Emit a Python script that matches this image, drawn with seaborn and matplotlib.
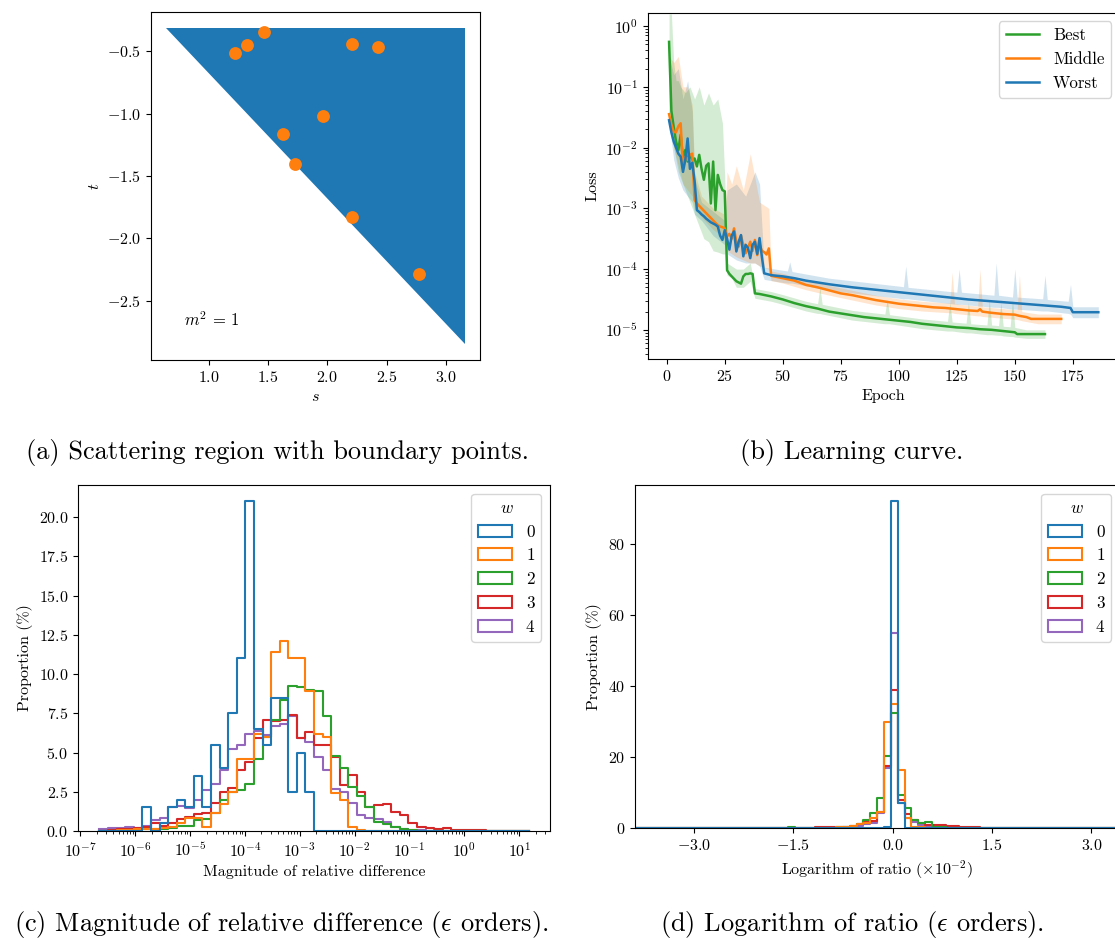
import numpy as np
import pandas as pd
import matplotlib
matplotlib.use("Agg")
import matplotlib.pyplot as plt
import seaborn as sns
from matplotlib.ticker import MultipleLocator, LogLocator, NullFormatter
from matplotlib.patches import Patch

plt.rcParams.update({
    "font.family": "serif",
    "font.serif": ["cmr10"],
    "mathtext.fontset": "cm",
    "axes.formatter.use_mathtext": True,
    "font.size": 11.5,
})

BLUE, ORANGE, GREEN, RED, PURPLE = "#1f77b4", "#ff7f0e", "#2ca02c", "#d62728", "#9467bd"

# ---------------- (a) scattering region ----------------
TRI_S = [0.64, 3.16, 3.16]
TRI_T = [-0.31, -0.31, -2.85]
PTS_S = [1.22, 1.32, 1.47, 2.21, 2.43, 1.96, 1.63, 1.73, 2.21, 2.77]
PTS_T = [-0.51, -0.45, -0.34, -0.44, -0.46, -1.02, -1.16, -1.40, -1.83, -2.29]

# ---------------- (b) learning curves (log10 of loss) ----------------
BEST_EPOCH = [1, 2, 3, 4, 5, 6, 7, 8, 9, 10, 11, 12, 13, 14, 15, 16, 17, 18, 19, 20,
              21, 22, 23, 24, 25, 26, 27, 28, 29, 30, 31, 32, 33, 34, 35, 36, 37, 38,
              40, 45, 50, 55, 60, 65, 70, 75, 80, 85, 90, 95, 100, 105, 110, 115, 120,
              125, 130, 135, 140, 145, 150, 151, 155, 160, 163]
BEST_LOG10 = [-0.26, -1.40, -1.66, -1.90, -2.04, -1.79, -2.18, -2.04, -2.23, -2.12,
              -2.20, -2.18, -2.31, -2.12, -2.35, -2.53, -2.30, -2.26, -2.92, -2.23,
              -3.03, -2.45, -2.60, -2.70, -2.72, -4.02, -4.08, -4.12, -4.16, -4.20,
              -4.22, -4.24, -4.12, -4.08, -4.08, -4.07, -4.08, -4.40,
              -4.41, -4.45, -4.50, -4.56, -4.61, -4.65, -4.70, -4.73, -4.76, -4.79,
              -4.81, -4.83, -4.85, -4.87, -4.90, -4.92, -4.94, -4.96, -4.97, -4.99,
              -5.00, -5.02, -5.04, -5.07, -5.07, -5.07, -5.07]

MIDDLE_EPOCH = [1, 2, 3, 4, 5, 6, 7, 8, 9, 10, 11, 12, 13, 14, 15, 16, 17, 18, 19, 20,
                21, 22, 23, 24, 25, 26, 27, 28, 29, 30, 31, 32, 33, 34, 35, 36, 37, 38,
                39, 40, 41, 42, 43, 44, 45, 50, 55, 60, 65, 70, 75, 80, 85, 90, 95, 100,
                105, 110, 115, 120, 125, 130, 134, 135, 136, 140, 145, 150, 152, 155,
                157, 160, 165, 170]
MIDDLE_LOG10 = [-1.45, -1.62, -1.74, -1.75, -1.65, -1.60, -2.34, -2.15, -2.20, -2.12,
                -2.10, -2.86, -2.92, -2.96, -3.00, -3.04, -3.08, -3.12, -3.16, -3.20,
                -3.24, -3.28, -3.30, -3.31, -3.33, -3.46, -3.42, -3.50, -3.33, -3.55,
                -3.63, -3.45, -3.60, -3.74, -3.65, -3.55, -3.70, -3.52, -3.77, -3.60,
                -3.70, -3.72, -3.76, -3.66, -4.11, -4.15, -4.19, -4.26, -4.30, -4.35,
                -4.40, -4.43, -4.47, -4.51, -4.54, -4.57, -4.59, -4.61, -4.63, -4.64,
                -4.66, -4.68, -4.69, -4.66, -4.70, -4.72, -4.74, -4.75, -4.77, -4.79,
                -4.82, -4.82, -4.82, -4.82]

WORST_EPOCH = [1, 2, 3, 4, 5, 6, 7, 8, 9, 10, 11, 12, 13, 14, 15, 16, 17, 18, 19, 20,
               21, 22, 23, 24, 25, 26, 27, 28, 29, 30, 31, 32, 33, 34, 35, 36, 37, 38,
               39, 40, 41, 42, 45, 50, 55, 60, 70, 80, 90, 100, 110, 120, 130, 140, 150,
               160, 170, 174, 175, 180, 186]
WORST_LOG10 = [-1.55, -1.75, -1.90, -2.00, -2.10, -2.15, -2.40, -2.20, -1.85, -2.35,
               -2.25, -2.55, -3.03, -3.06, -3.10, -3.13, -3.17, -3.20, -3.23, -3.25,
               -3.27, -3.30, -3.45, -3.52, -3.36, -3.50, -3.68, -3.45, -3.38, -3.71,
               -3.55, -3.44, -3.79, -3.60, -3.65, -3.82, -3.60, -3.55, -3.75, -3.49,
               -3.80, -4.07, -4.10, -4.12, -4.15, -4.19, -4.25, -4.30, -4.34, -4.38,
               -4.42, -4.46, -4.50, -4.53, -4.56, -4.59, -4.62, -4.64, -4.71, -4.71, -4.71]

# run-to-run spread (log10 of lower / upper envelope)
BEST_BAND_EPOCH = [1, 2, 3, 4, 5, 6, 8, 10, 12, 14, 16, 18, 20, 22, 24, 25, 26, 28, 30, 33,
                   36, 38, 45, 50, 60, 65, 66, 67, 80, 94, 95, 96, 110, 121, 122, 123, 129,
                   130, 131, 138, 139, 140, 143, 144, 145, 148, 149, 150, 155, 163]
BEST_BAND_LO = [-0.26, -1.70, -2.00, -2.20, -2.40, -2.50, -2.70, -2.90, -3.10, -3.30,
                -3.50, -3.55, -3.70, -3.72, -3.75, -3.75, -4.10, -4.15, -4.30, -4.30,
                -4.20, -4.48, -4.53, -4.58, -4.69, -4.73, -4.73, -4.74, -4.84, -4.90,
                -4.90, -4.90, -4.98, -5.02, -5.02, -5.02, -5.05, -5.05, -5.05, -5.08,
                -5.08, -5.08, -5.09, -5.09, -5.10, -5.11, -5.11, -5.12, -5.14, -5.14]
BEST_BAND_HI = [0.20, 0.20, -0.60, -0.90, -0.90, -1.00, -1.10, -1.00, -1.20, -1.00,
                -1.30, -1.10, -1.30, -1.20, -1.60, -2.50, -3.90, -3.95, -4.00, -4.00,
                -3.90, -4.32, -4.37, -4.42, -4.53, -4.57, -4.30, -4.58, -4.68, -4.74,
                -4.50, -4.75, -4.82, -4.86, -4.55, -4.87, -4.89, -4.55, -4.90, -4.92,
                -4.50, -4.92, -4.93, -4.55, -4.94, -4.95, -4.50, -4.96, -5.00, -5.00]

MIDDLE_BAND_EPOCH = [1, 3, 5, 7, 9, 11, 12, 15, 20, 25, 26, 28, 30, 33, 36, 38, 40, 44, 45,
                     50, 60, 70, 80, 90, 100, 110, 122, 123, 124, 134, 135, 136, 151, 152,
                     153, 160, 170]
MIDDLE_BAND_LO = [-1.60, -2.00, -2.30, -2.60, -2.70, -2.80, -3.00, -3.15, -3.35, -3.50,
                  -3.70, -3.75, -3.80, -3.85, -3.90, -3.90, -3.95, -4.00, -4.19, -4.23,
                  -4.34, -4.43, -4.51, -4.59, -4.65, -4.69, -4.72, -4.72, -4.73, -4.77,
                  -4.77, -4.78, -4.83, -4.84, -4.85, -4.90, -4.90]
MIDDLE_BAND_HI = [-0.50, -0.60, -0.50, -1.00, -1.00, -1.30, -2.40, -2.80, -3.00, -3.10,
                  -2.40, -2.60, -2.30, -2.70, -2.10, -2.50, -2.90, -3.00, -4.03, -4.07,
                  -4.18, -4.27, -4.35, -4.43, -4.49, -4.53, -4.56, -4.05, -4.57, -4.61,
                  -4.00, -4.62, -4.67, -4.10, -4.70, -4.74, -4.74]

WORST_BAND_EPOCH = [1, 3, 5, 7, 9, 11, 12, 15, 20, 25, 26, 30, 34, 38, 40, 42, 50, 52, 53,
                    54, 70, 100, 102, 103, 104, 125, 126, 127, 141, 142, 143, 149, 150, 151,
                    162, 163, 164, 173, 174, 175, 186]
WORST_BAND_LO = [-1.60, -2.20, -2.50, -2.70, -2.80, -2.90, -3.10, -3.20, -3.45, -3.60,
                 -3.75, -3.85, -3.90, -3.90, -3.95, -4.17, -4.22, -4.23, -4.23, -4.23,
                 -4.35, -4.48, -4.49, -4.49, -4.49, -4.58, -4.58, -4.58, -4.63, -4.63,
                 -4.63, -4.66, -4.66, -4.66, -4.69, -4.69, -4.69, -4.73, -4.74, -4.80, -4.80]
WORST_BAND_HI = [-0.50, -0.80, -0.70, -1.20, -0.90, -1.40, -2.50, -2.90, -3.05, -3.20,
                 -2.70, -2.60, -2.80, -2.40, -2.60, -3.97, -4.02, -4.03, -3.88, -4.04,
                 -4.15, -4.28, -4.29, -3.95, -4.30, -4.38, -4.00, -4.38, -4.43, -3.90,
                 -4.43, -4.46, -4.00, -4.46, -4.49, -4.10, -4.50, -4.53, -4.25, -4.62, -4.62]

RUN_NAMES = ["Best", "Middle", "Worst"]
RUN_COLORS = [GREEN, ORANGE, BLUE]

# ---------------- (c) magnitude of relative difference ----------------
C_LOG_LO, C_LOG_HI, C_NBINS = -6.65, 1.17, 50
C_W0 = [0, 0, 0, 0, 0, 1.5, 0, 0.5, 1.5, 2.0, 1.5, 3.5, 1.5, 5.5, 4.0, 7.5, 11.0, 21.0,
        6.5, 5.5, 8.5, 8.5, 2.5, 5.0, 2.5] + [0] * 25
C_W1 = [0, 0.02, 0.05, 0.05, 0.1, 0.1, 0.15, 0.2, 0.25, 0.5, 0.85, 0.85, 0.28, 1.15, 1.7,
        2.5, 4.6, 4.6, 6.2, 6.0, 11.4, 12.1, 11.0, 11.0, 8.9, 6.2, 6.0, 2.4, 2.0, 0.27,
        0.05, 0.03, 0.02, 0.01, 0.01] + [0] * 15
C_W2 = [0, 0.02, 0.03, 0.05, 0.05, 0.1, 0.15, 0.13, 0.17, 0.3, 0.35, 0.7, 0.75, 1.15, 2.0,
        2.5, 2.6, 3.0, 4.6, 6.0, 7.05, 8.35, 9.25, 9.2, 9.0, 8.9, 7.3, 4.8, 4.0, 2.8,
        2.2, 1.55, 0.6, 0.42, 0.23, 0.1, 0.05, 0.03, 0.02, 0.02, 0.01, 0.01] + [0] * 8
C_W3 = [0.02, 0.05, 0.1, 0.1, 0.17, 0.28, 0.5, 0.35, 0.5, 0.75, 0.9, 1.06, 1.15, 1.8, 2.47,
        2.72, 3.9, 4.4, 5.9, 7.05, 7.0, 7.1, 7.4, 5.95, 6.33, 5.5, 5.5, 4.7, 2.9, 3.6,
        2.5, 1.5, 1.65, 1.7, 1.2, 1.0, 0.5, 0.27, 0.17, 0.13, 0.21, 0.08, 0.07, 0.07,
        0.05, 0.03, 0.03, 0.02, 0.02, 0.02]
C_W4 = [0.1, 0.17, 0.17, 0.28, 0.17, 0.34, 0.68, 0.8, 1.5, 1.62, 1.47, 2.0, 2.6, 3.0, 3.9,
        5.2, 5.5, 6.2, 6.4, 6.1, 6.7, 6.8, 7.35, 5.9, 5.7, 4.7, 3.9, 2.7, 2.5, 1.8,
        1.0, 0.8, 0.75, 0.55, 0.28, 0.13, 0.08, 0.05, 0.03, 0.02, 0.02, 0.01, 0.01,
        0.01, 0.01, 0, 0, 0, 0, 0]

# ---------------- (d) logarithm of ratio (x 1e-2) ----------------
D_EDGE0, D_BINW = -0.026, 0.1034       # a bin edge near zero, bin width
D_K_FIRST, D_K_LAST = -38, 33          # full histogram bin index range
D_K_DATA = list(range(-15, 15))        # bins with readable values
D_W0 = [0] * 14 + [0.5, 92.0, 7.0] + [0] * 13
D_W1 = [0, 0, 0.05, 0.1, 0.1, 0.2, 0.2, 0.3, 0.4, 0.6, 1.1, 1.4, 2.8, 4.5, 30.0,
        35.0, 16.5, 3.0, 0.5, 0.3, 0.2, 0.2, 0.1, 0.1, 0.05, 0, 0, 0, 0, 0]
D_W2 = [0.5, 0.1, 0.1, 0.1, 0.1, 0.1, 0.2, 0.3, 0.4, 0.6, 1.1, 2.3, 4.2, 8.5, 20.4,
        32.4, 9.4, 5.8, 2.3, 1.5, 1.8, 0.5, 0.3, 0.2, 0.1, 0.1, 0.05, 0, 0, 0]
D_W3 = [0, 0.05, 0.1, 0.2, 0.3, 0.3, 0.3, 0.4, 0.4, 0.6, 1.1, 1.8, 2.0, 4.7, 17.6,
        39.0, 8.0, 4.0, 2.3, 1.6, 1.0, 0.8, 0.8, 0.7, 0.6, 0.5, 0.4, 0.3, 0.2, 0.1]
D_W4 = [0, 0, 0, 0, 0, 0.05, 0.1, 0.2, 0.3, 0.4, 0.6, 1.3, 1.6, 4.2, 17.0,
        55.0, 7.2, 3.0, 1.8, 1.0, 0.6, 0.4, 0.3, 0.2, 0.1, 0, 0, 0, 0, 0]

W_LEVELS = [0, 1, 2, 3, 4]
W_COLORS = [BLUE, ORANGE, GREEN, RED, PURPLE]

# =====================================================================
fig = plt.figure(figsize=(11.15, 9.39), dpi=100)
W, H = 1115.0, 939.0


def rect(l, r, t, b):
    return [l / W, (H - b) / H, (r - l) / W, (b - t) / H]


axA = fig.add_axes(rect(151, 480, 12, 360))
axB = fig.add_axes(rect(647.6, 1119.8, 12.7, 359))
axC = fig.add_axes(rect(78, 550, 485, 831))
axD = fig.add_axes(rect(634.7, 1120, 485, 828.3))

# ---- (a)
axA.fill(TRI_S, TRI_T, color=BLUE, lw=0)
sns.scatterplot(x=PTS_S, y=PTS_T, color=ORANGE, s=85, linewidth=0, ax=axA, zorder=3)
axA.set_xlim(0.514, 3.286)
axA.set_ylim(-2.977, -0.183)
axA.xaxis.set_major_locator(MultipleLocator(0.5))
axA.yaxis.set_major_locator(MultipleLocator(0.5))
axA.set_xlabel("$s$")
axA.set_ylabel("$t$")
axA.text(0.1, 0.09, r"$m^2\,=\,1$", transform=axA.transAxes, ha="left", va="bottom",
         fontsize=12)

# ---- (b)
frames = []
for name, ep, lg in [("Best", BEST_EPOCH, BEST_LOG10),
                     ("Middle", MIDDLE_EPOCH, MIDDLE_LOG10),
                     ("Worst", WORST_EPOCH, WORST_LOG10)]:
    frames.append(pd.DataFrame({"Epoch": ep, "Loss": np.power(10.0, lg), "Run": name}))
dfB = pd.concat(frames, ignore_index=True)

for ep, lo, hi, col in [(WORST_BAND_EPOCH, WORST_BAND_LO, WORST_BAND_HI, BLUE),
                        (MIDDLE_BAND_EPOCH, MIDDLE_BAND_LO, MIDDLE_BAND_HI, ORANGE),
                        (BEST_BAND_EPOCH, BEST_BAND_LO, BEST_BAND_HI, GREEN)]:
    axB.fill_between(ep, np.power(10.0, lo), np.power(10.0, hi), color=col, alpha=0.2, lw=0)

sns.lineplot(data=dfB, x="Epoch", y="Loss", hue="Run", hue_order=RUN_NAMES,
             palette=dict(zip(RUN_NAMES, RUN_COLORS)), estimator=None, errorbar=None,
             lw=1.8, ax=axB)
axB.set_yscale("log")
axB.set_ylim(10 ** -5.48, 10 ** 0.22)
axB.set_xlim(-8.25, 195.25)
axB.xaxis.set_major_locator(MultipleLocator(25))
axB.set_xlabel("Epoch")
axB.set_ylabel("Loss")
sns.move_legend(axB, "upper right", title=None, fontsize=12.2)

# ---- (c)
c_edges = np.linspace(C_LOG_LO, C_LOG_HI, C_NBINS + 1)
c_centers = 0.5 * (c_edges[:-1] + c_edges[1:])
dfC = pd.concat([pd.DataFrame({"mag": np.power(10.0, c_centers), "pct": vals, "w": lvl})
                 for lvl, vals in zip(W_LEVELS, [C_W0, C_W1, C_W2, C_W3, C_W4])],
                ignore_index=True)
sns.histplot(data=dfC, x="mag", weights="pct", hue="w", hue_order=W_LEVELS,
             palette=W_COLORS, bins=c_edges.tolist(), log_scale=True, element="step",
             fill=False, stat="count", legend=False, lw=1.5, ax=axC)
axC.set_ylim(0, 22.05)
axC.yaxis.set_major_locator(MultipleLocator(2.5))
axC.xaxis.set_major_locator(LogLocator(base=10, numticks=30))
axC.xaxis.set_minor_locator(LogLocator(base=10, subs=np.arange(2, 10), numticks=300))
axC.xaxis.set_minor_formatter(NullFormatter())
axC.set_xlabel("Magnitude of relative difference")
axC.set_ylabel("Proportion (%)")

# ---- (d)
d_edges = D_EDGE0 + D_BINW * np.arange(D_K_FIRST, D_K_LAST + 2)
d_centers = D_EDGE0 + D_BINW * (np.array(D_K_DATA) + 0.5)
dfD = pd.concat([pd.DataFrame({"lr": d_centers, "pct": vals, "w": lvl})
                 for lvl, vals in zip(W_LEVELS, [D_W0, D_W1, D_W2, D_W3, D_W4])],
                ignore_index=True)
sns.histplot(data=dfD, x="lr", weights="pct", hue="w", hue_order=W_LEVELS,
             palette=W_COLORS, bins=d_edges.tolist(), element="step", fill=False,
             stat="count", legend=False, lw=1.5, ax=axD)
axD.set_xlim(-3.89, 3.43)
axD.set_ylim(0, 96.6)
axD.set_xticks([-3.0, -1.5, 0.0, 1.5, 3.0])
axD.set_xlabel(r"Logarithm of ratio ($\times 10^{-2}$)")
axD.set_ylabel("Proportion (%)")

for ax in (axC, axD):
    handles = [Patch(facecolor="none", edgecolor=c, lw=1.5, label=str(l))
               for l, c in zip(W_LEVELS, W_COLORS)]
    ax.legend(handles=handles, title="$w$", loc="upper right", fontsize=12.3,
              title_fontsize=12.3)

# ---- captions
cap_kw = dict(ha="center", va="center", fontsize=19)
fig.text(278 / W, 1 - 453 / H, "(a) Scattering region with boundary points.", **cap_kw)
fig.text(852 / W, 1 - 453 / H, "(b) Learning curve.", **cap_kw)
fig.text(281 / W, 1 - 924 / H, r"(c) Magnitude of relative difference ($\epsilon$ orders).", **cap_kw)
fig.text(852 / W, 1 - 924 / H, r"(d) Logarithm of ratio ($\epsilon$ orders).", **cap_kw)

fig.savefig("out.png", dpi=100)
